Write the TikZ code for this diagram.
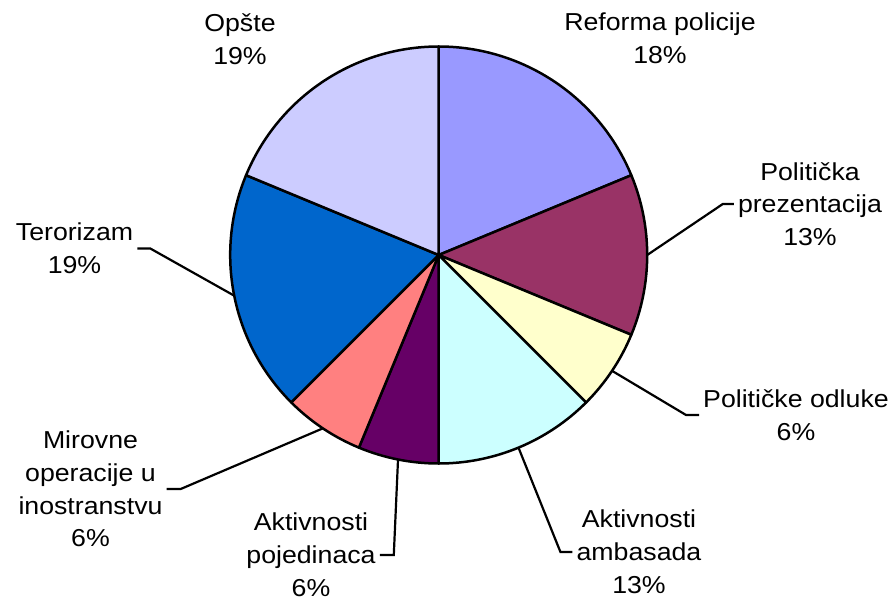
\documentclass[tikz,border=0pt]{standalone}
\usepackage{fontspec}
\setmainfont[FakeStretch=1.09]{Liberation Sans}
\definecolor{reforma}{HTML}{9999FF}
\definecolor{prezent}{HTML}{993366}
\definecolor{odluke}{HTML}{FFFFCC}
\definecolor{ambasada}{HTML}{CCFFFF}
\definecolor{pojedinci}{HTML}{660066}
\definecolor{mirovne}{HTML}{FF8080}
\definecolor{terorizam}{HTML}{0066CC}
\definecolor{opste}{HTML}{CCCCFF}
\tikzstyle{pieslice} = [draw=black, line width=2.5pt, line join=round]
\tikzstyle{leaderline} = [draw=black, line width=2.2pt]
\tikzstyle{pielabel} = [align=center, inner sep=4pt, font=\fontsize{24.5}{32.8}\selectfont]
\def\pieradius{208.5}

\begin{document}
\begin{tikzpicture}[x=1pt, y=1pt]

\useasboundingbox (-438.7,-345) rectangle (455.3,255);

% slices, clockwise from the top
\filldraw [pieslice, fill=reforma] (0,0) -- (90:\pieradius) arc (90:22.5:\pieradius) -- cycle;
\filldraw [pieslice, fill=prezent] (0,0) -- (22.5:\pieradius) arc (22.5:-22.5:\pieradius) -- cycle;
\filldraw [pieslice, fill=odluke] (0,0) -- (-22.5:\pieradius) arc (-22.5:-45:\pieradius) -- cycle;
\filldraw [pieslice, fill=ambasada] (0,0) -- (-45:\pieradius) arc (-45:-90:\pieradius) -- cycle;
\filldraw [pieslice, fill=pojedinci] (0,0) -- (-90:\pieradius) arc (-90:-112.5:\pieradius) -- cycle;
\filldraw [pieslice, fill=mirovne] (0,0) -- (-112.5:\pieradius) arc (-112.5:-135:\pieradius) -- cycle;
\filldraw [pieslice, fill=terorizam] (0,0) -- (-135:\pieradius) arc (-135:-202.5:\pieradius) -- cycle;
\filldraw [pieslice, fill=opste] (0,0) -- (157.5:\pieradius) arc (157.5:90:\pieradius) -- cycle;

\node (reforma) [pielabel] at (221.3,216.5) {Reforma policije\\18\%};
\node (prezent) [pielabel] at (371.3,51) {Politička\\prezentacija\\13\%};
\node (odluke) [pielabel] at (357.3,-160) {Političke odluke\\6\%};
\node (ambasada) [pielabel] at (200.3,-297) {Aktivnosti\\ambasada\\13\%};
\node (pojedinci) [pielabel] at (-127.7,-300) {Aktivnosti\\pojedinaca\\6\%};
\node (mirovne) [pielabel] at (-348.2,-234) {Mirovne\\operacije u\\inostranstvu\\6\%};
\node (terorizam) [pielabel] at (-364.2,6.5) {Terorizam\\19\%};
\node (opste) [pielabel] at (-198.7,216) {Opšte\\19\%};

\coordinate (e_prezent) at (0:\pieradius);
\coordinate (e_odluke) at (-33.75:\pieradius);
\coordinate (e_ambasada) at (-67.5:\pieradius);
\coordinate (e_pojedinci) at (-101.25:\pieradius);
\coordinate (e_mirovne) at (-123.75:\pieradius);
\coordinate (e_terorizam) at (191.25:\pieradius);

\draw [leaderline] (e_prezent) -- ([xshift=-11pt]prezent.west) -- (prezent.west);
\draw [leaderline] (e_odluke) -- ([xshift=-13pt]odluke.west) -- (odluke.west);
\draw [leaderline] (e_ambasada) -- ([xshift=-12pt]ambasada.west) -- (ambasada.west);
\draw [leaderline] (e_pojedinci) -- ([xshift=14pt]pojedinci.east) -- (pojedinci.east);
\draw [leaderline] (e_mirovne) -- ([xshift=14pt]mirovne.east) -- (mirovne.east);
\draw [leaderline] (e_terorizam) -- ([xshift=13pt]terorizam.east) -- (terorizam.east);

\end{tikzpicture}
\end{document}
